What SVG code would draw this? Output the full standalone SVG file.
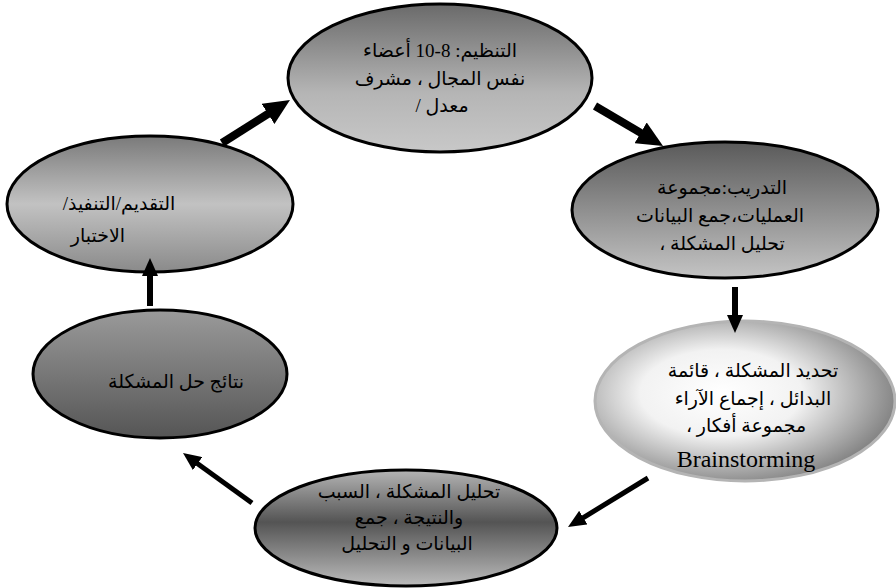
<svg xmlns="http://www.w3.org/2000/svg" width="896" height="588" viewBox="0 0 896 588">
<style>
.node{stroke:#000;stroke-width:3}
.t{font-family:"Liberation Serif","DejaVu Sans",serif;font-size:19px;fill:#000;text-anchor:middle;direction:rtl}
.lat{font-family:"Liberation Serif",serif;font-size:24px;fill:#000;text-anchor:middle}
.arr{stroke:#000;fill:none}
</style>
<defs>
<linearGradient id="gTop" x1="0" y1="0" x2="0" y2="1"><stop offset="0" stop-color="#6a6a6a"/><stop offset="0.6" stop-color="#b5b5b5"/><stop offset="1" stop-color="#c8c8c8"/></linearGradient>
<linearGradient id="gRight" x1="0" y1="0" x2="0" y2="1"><stop offset="0" stop-color="#5a5a5a"/><stop offset="1" stop-color="#c4c4c4"/></linearGradient>
<radialGradient id="gBrain" cx="0.42" cy="0.45" r="0.6"><stop offset="0" stop-color="#ffffff"/><stop offset="0.45" stop-color="#f2f2f2"/><stop offset="1" stop-color="#808080"/></radialGradient>
<linearGradient id="gBottom" x1="0" y1="0" x2="0" y2="1"><stop offset="0" stop-color="#b4b4b4"/><stop offset="0.45" stop-color="#545454"/><stop offset="1" stop-color="#bcbcbc"/></linearGradient>
<linearGradient id="gLeft" x1="0" y1="0" x2="0" y2="1"><stop offset="0" stop-color="#9a9a9a"/><stop offset="1" stop-color="#555555"/></linearGradient>
<linearGradient id="gTopLeft" x1="0" y1="0" x2="0" y2="1"><stop offset="0" stop-color="#7a7a7a"/><stop offset="0.5" stop-color="#c2c2c2"/><stop offset="1" stop-color="#8a8a8a"/></linearGradient>
<marker id="hBig" markerUnits="userSpaceOnUse" markerWidth="26" markerHeight="24" refX="11" refY="12" orient="auto"><path d="M0,0 L26,12 L0,24 z" fill="#000"/></marker>
<marker id="hSmall" markerUnits="userSpaceOnUse" markerWidth="18" markerHeight="16" refX="8" refY="8" orient="auto"><path d="M0,0 L18,8 L0,16 z" fill="#000"/></marker>
</defs>

<g id="node-organize">
<ellipse class="node" cx="440" cy="78" rx="152" ry="74" fill="url(#gTop)"/>
<text class="t" x="440" y="57">التنظيم: 8-10 أعضاء</text>
<text class="t" x="440" y="85">نفس المجال ، مشرف</text>
<text class="t" x="442" y="112">معدل /</text>
</g>

<g id="node-training">
<ellipse class="node" cx="725" cy="210" rx="153" ry="68" fill="url(#gRight)"/>
<text class="t" x="722" y="194">التدريب:مجموعة</text>
<text class="t" x="720" y="222">العمليات،جمع البيانات</text>
<text class="t" x="722" y="250">تحليل المشكلة ،</text>
</g>

<g id="node-brainstorm">
<ellipse cx="745" cy="401" rx="150" ry="80" fill="url(#gBrain)" stroke="#b4b4b4" stroke-width="3"/>
<text class="t" x="753" y="377">تحديد المشكلة ، قائمة</text>
<text class="t" x="753" y="405">البدائل ، إجماع الآراء</text>
<text class="t" x="746" y="432">مجموعة أفكار ،</text>
<text class="lat" x="746" y="467">Brainstorming</text>
</g>

<g id="node-analysis">
<ellipse class="node" cx="406" cy="528" rx="151" ry="58" fill="url(#gBottom)"/>
<text class="t" x="409" y="498">تحليل المشكلة ، السبب</text>
<text class="t" x="409" y="524">والنتيجة ، جمع</text>
<text class="t" x="407" y="550">البيانات و التحليل</text>
</g>

<g id="node-results">
<ellipse class="node" cx="160" cy="374" rx="127" ry="64" fill="url(#gLeft)"/>
<text class="t" x="176" y="388">نتائج حل المشكلة</text>
</g>

<g id="node-present">
<ellipse class="node" cx="150" cy="204" rx="143" ry="68" fill="url(#gTopLeft)"/>
<text class="t" x="119" y="210">التقديم/التنفيذ/</text>
<text class="t" x="98" y="242">الاختبار</text>
</g>

<g id="connectors">
<line class="arr" x1="222" y1="143" x2="277.3" y2="108" stroke-width="8" marker-end="url(#hBig)"/>
<line class="arr" x1="595" y1="106" x2="650.1" y2="138.4" stroke-width="8" marker-end="url(#hBig)"/>
<line class="arr" x1="735" y1="287" x2="735" y2="323" stroke-width="6" marker-end="url(#hSmall)"/>
<line class="arr" x1="648" y1="478" x2="576.5" y2="521.8" stroke-width="5" marker-end="url(#hSmall)"/>
<line class="arr" x1="252" y1="503" x2="191.1" y2="458.9" stroke-width="5" marker-end="url(#hSmall)"/>
<line class="arr" x1="150" y1="306" x2="150" y2="268" stroke-width="6" marker-end="url(#hSmall)"/>
</g>
</svg>
